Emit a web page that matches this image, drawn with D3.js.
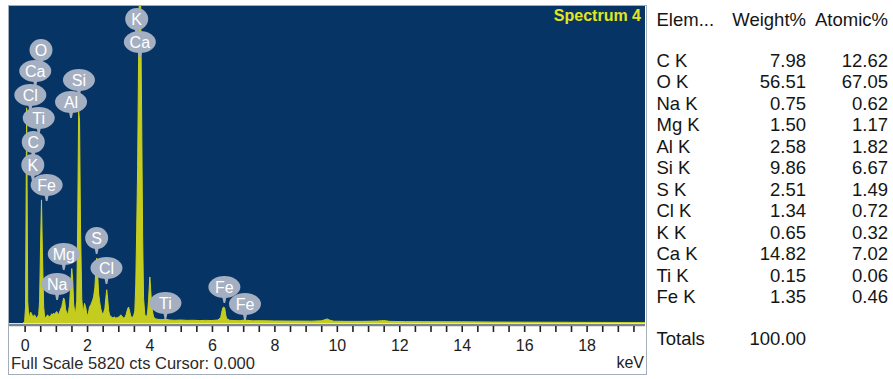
<!DOCTYPE html>
<html>
<head>
<meta charset="utf-8">
<script src="https://cdn.jsdelivr.net/npm/d3@7"></script>
<style>
  body { margin: 0; background: #fff; }
  text { font-family: "Liberation Sans", Arial, sans-serif; }
</style>
</head>
<body>
<div id="chart"></div>
<script>
// spectrum: [keV, counts]
const spectrum = [
  [-0.05, 0], [0.0, 20], [0.03, 300], [0.05, 2500], [0.065, 3950], [0.08, 2500], [0.10, 400],
  [0.13, 110], [0.16, 130], [0.19, 200], [0.22, 180], [0.26, 110], [0.29, 130], [0.32, 150],
  [0.35, 110], [0.38, 95], [0.42, 120], [0.45, 150], [0.48, 400], [0.51, 1400], [0.54, 2260],
  [0.57, 1300], [0.61, 300], [0.64, 110], [0.67, 100], [0.71, 130], [0.74, 150], [0.77, 110],
  [0.80, 120], [0.84, 140], [0.87, 170], [0.90, 150], [0.93, 180], [0.96, 160], [0.99, 190],
  [1.03, 210], [1.06, 180], [1.09, 150], [1.12, 200], [1.16, 260], [1.19, 300], [1.22, 380],
  [1.25, 460], [1.28, 420], [1.31, 260], [1.35, 180], [1.38, 160], [1.41, 230], [1.44, 330],
  [1.47, 650], [1.51, 1000], [1.54, 800], [1.57, 350], [1.60, 220], [1.63, 180], [1.67, 400],
  [1.70, 1800], [1.73, 3900], [1.76, 3700], [1.79, 1800], [1.83, 450], [1.86, 220], [1.89, 250],
  [1.92, 360], [1.96, 280], [1.99, 170], [2.02, 140], [2.05, 200], [2.08, 300], [2.12, 330],
  [2.15, 380], [2.18, 420], [2.21, 480], [2.25, 650], [2.28, 950], [2.31, 1190], [2.34, 900],
  [2.37, 550], [2.40, 400], [2.44, 260], [2.47, 200], [2.50, 170], [2.53, 190], [2.57, 260],
  [2.60, 450], [2.63, 610], [2.66, 450], [2.69, 230], [2.72, 150], [2.76, 120], [2.82, 95],
  [2.88, 110], [2.92, 90], [2.98, 100], [3.04, 120], [3.08, 150], [3.11, 130], [3.17, 90],
  [3.21, 100], [3.25, 150], [3.30, 260], [3.33, 294], [3.37, 200], [3.40, 120], [3.46, 100],
  [3.50, 150], [3.53, 220], [3.56, 700], [3.59, 1700], [3.62, 2860], [3.65, 4800], [3.68, 6500],
  [3.71, 6300], [3.75, 3700], [3.78, 1600], [3.81, 450], [3.85, 150], [3.91, 110], [3.94, 200],
  [3.97, 420], [4.01, 845], [4.04, 600], [4.07, 300], [4.13, 110], [4.20, 75], [4.30, 65],
  [4.40, 60], [4.49, 70], [4.52, 80], [4.55, 65], [4.65, 55], [4.8, 50], [5.0, 55], [5.2, 48],
  [5.4, 50], [5.6, 45], [5.8, 48], [6.0, 45], [6.19, 55], [6.28, 100], [6.31, 190], [6.35, 280],
  [6.38, 294], [6.41, 270], [6.44, 150], [6.47, 80], [6.57, 50], [6.7, 45], [6.9, 42], [7.02, 55],
  [7.06, 65], [7.10, 50], [7.3, 40], [7.6, 42], [8.0, 38], [8.4, 36], [8.8, 35], [9.2, 34],
  [9.5, 40], [9.62, 60], [9.69, 75], [9.76, 55], [9.9, 33], [10.3, 30], [10.8, 30], [11.3, 35],
  [11.5, 45], [11.7, 30], [12.2, 25], [13, 24], [14, 22], [15, 18], [16, 16], [17, 14], [18, 12],
  [19, 10], [19.87, 10]
];

// peak labels: element, line energy (keV), height of pin tip (counts)
const labelNames = ["K", "Ca", "O", "Ca", "Cl", "Si", "Al", "Ti", "C", "K", "Fe", "Mg", "Na", "S", "Cl", "Ti", "Fe", "Fe"];
const labelKeV   = [3.59, 3.69, 0.525, 0.341, 0.183, 1.74, 1.487, 0.452, 0.277, 0.262, 0.705, 1.254, 1.041, 2.307, 2.622, 4.51, 6.398, 7.058];
const labelTip   = [5288, 4865, 4719, 4333, 3892, 4168, 3764, 3470, 3029, 2607, 2240, 973, 422, 1267, 716, 73, 367, 55];

const fullScale = 5820;
const xTickLabels = [0, 2, 4, 6, 8, 10, 12, 14, 16, 18];

// quant table
const elements = ["C K", "O K", "Na K", "Mg K", "Al K", "Si K", "S K", "Cl K", "K K", "Ca K", "Ti K", "Fe K"];
const weightPct = ["7.98", "56.51", "0.75", "1.50", "2.58", "9.86", "2.51", "1.34", "0.65", "14.82", "0.15", "1.35"];
const atomicPct = ["12.62", "67.05", "0.62", "1.17", "1.82", "6.67", "1.49", "0.72", "0.32", "7.02", "0.06", "0.46"];
const totalWeight = "100.00";

const W = 893, H = 379;
const plot = { left: 9, right: 645, top: 6, bottom: 323 };

const svg = d3.select("#chart").append("svg")
    .attr("width", W)
    .attr("height", H);

const x = d3.scaleLinear().domain([-0.5, 19.87]).range([plot.left, plot.right]);
const y = d3.scaleLinear().domain([0, fullScale]).range([plot.bottom, plot.top]);

// frame
svg.append("rect")
    .attr("x", 8.5).attr("y", 5.5)
    .attr("width", 638).attr("height", 369)
    .attr("fill", "#fff")
    .attr("stroke", "#a3adbb");

svg.append("rect")
    .attr("x", plot.left).attr("y", plot.top)
    .attr("width", plot.right - plot.left).attr("height", plot.bottom - plot.top)
    .attr("fill", "#063465");

svg.append("clipPath").attr("id", "clip")
  .append("rect")
    .attr("x", plot.left).attr("y", plot.top)
    .attr("width", plot.right - plot.left).attr("height", plot.bottom - plot.top);

const area = d3.area()
    .x(d => x(d[0]))
    .y0(y(0))
    .y1(d => y(d[1]));

svg.append("path")
    .datum(spectrum)
    .attr("clip-path", "url(#clip)")
    .attr("d", area)
    .attr("fill", "#c4cc1f")
    .attr("stroke", "#c8d01c")
    .attr("stroke-width", 1);

// axis
svg.append("line")
    .attr("x1", plot.left).attr("x2", plot.right)
    .attr("y1", 325).attr("y2", 325)
    .attr("stroke", "#7d848c")
    .attr("stroke-width", 2.5);

const axis = svg.append("g")
    .attr("transform", "translate(0,326)")
    .call(d3.axisBottom(x)
        .tickValues(d3.range(0, 19.6, 0.5))
        .tickSize(6)
        .tickFormat(d => xTickLabels.includes(d) ? d : ""));
axis.select(".domain").remove();
axis.selectAll(".tick line").attr("stroke", "#222").attr("stroke-width", 1.6);
axis.selectAll(".tick text")
    .attr("dy", 0).attr("y", 25)
    .style("font-size", "16px")
    .style("font-family", "'Liberation Sans', Arial, sans-serif")
    .attr("fill", "#1d1d1d");

svg.append("text")
    .attr("x", 644).attr("y", 368)
    .attr("text-anchor", "end")
    .style("font-size", "16px")
    .attr("fill", "#1d1d1d")
    .text("keV");

svg.append("text")
    .attr("x", 11).attr("y", 369)
    .style("font-size", "16.5px")
    .attr("fill", "#2a2a2a")
    .text(`Full Scale ${fullScale} cts Cursor: 0.000`);

svg.append("text")
    .attr("x", 641).attr("y", 21)
    .attr("text-anchor", "end")
    .style("font-size", "16px")
    .style("font-weight", "bold")
    .attr("fill", "#e4e41c")
    .text("Spectrum 4");

// peak labels
const labels = labelNames.map((n, i) => ({ name: n, kev: labelKeV[i], tip: labelTip[i] }));
const lab = svg.append("g").selectAll("g")
    .data(labels)
    .enter().append("g")
    .attr("transform", d => `translate(${x(d.kev)},${y(d.tip)})`);

lab.append("path")
    .attr("d", "M-2.5,-8 L2.5,-8 L0.8,0 L-0.8,0 Z")
    .attr("fill", "#a4afc2");

lab.append("ellipse")
    .attr("cx", 0).attr("cy", -16)
    .attr("rx", d => d.name.length > 1 ? 16 : 11.5)
    .attr("ry", 11)
    .attr("fill", "#a4afc2");

lab.append("text")
    .attr("x", 0).attr("y", -10)
    .attr("text-anchor", "middle")
    .style("font-size", "16px")
    .attr("fill", "#fff")
    .text(d => d.name);

// table
const tbl = svg.append("g").style("font-size", "18.5px").attr("fill", "#151515");
tbl.append("text").attr("x", 656.5).attr("y", 26).text("Elem...");
tbl.append("text").attr("x", 806).attr("y", 26).attr("text-anchor", "end").text("Weight%");
tbl.append("text").attr("x", 888).attr("y", 26).attr("text-anchor", "end").text("Atomic%");

elements.forEach((el, i) => {
  const by = 66.6 + i * 21.5;
  tbl.append("text").attr("x", 656.5).attr("y", by).text(el);
  tbl.append("text").attr("x", 806).attr("y", by).attr("text-anchor", "end").text(weightPct[i]);
  tbl.append("text").attr("x", 888).attr("y", by).attr("text-anchor", "end").text(atomicPct[i]);
});

tbl.append("text").attr("x", 656.5).attr("y", 344.6).text("Totals");
tbl.append("text").attr("x", 806).attr("y", 344.6).attr("text-anchor", "end").text(totalWeight);
</script>
</body>
</html>
